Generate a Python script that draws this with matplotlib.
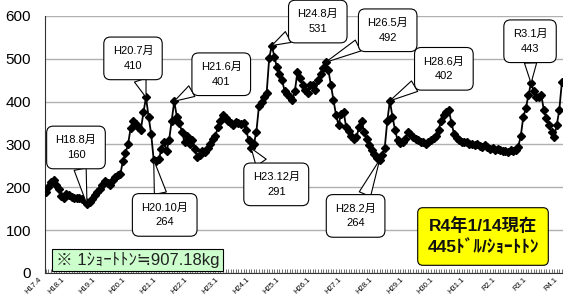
import matplotlib
matplotlib.use("Agg")
import matplotlib.pyplot as plt
import matplotlib.transforms as mtransforms
import numpy as np

plt.rcParams['font.family'] = ['Liberation Sans', 'Noto Sans CJK JP', 'DejaVu Sans']

# Monthly price (USD / short ton), from H17.4 (Apr 2005) to R4.1 (Jan 2022)
p_a = [190, 200, 212, 218, 205, 195, 180, 175, 185, 182, 178, 176, 175, 174, 172, 170, 160]
p_b = [165, 172, 182, 188, 195, 205, 215, 210, 205, 218, 225, 228, 230]
p_c = [262, 280, 300, 338, 355, 348, 340, 335, 375, 410, 365, 325, 264]
p_d = [262, 265, 290, 305, 285, 310, 355, 401]
p_e = [365, 350, 330, 305, 320, 300, 310, 290, 270, 275,
       285, 282, 292, 300, 312, 320, 340, 355, 370, 362,
       355, 350, 345, 352, 350, 348, 350, 335, 310, 291]
p_f = [300, 330, 390, 400, 410, 420, 502, 531, 505, 480,
       465, 450, 425, 418, 412, 405, 425, 470, 455, 440,
       428, 420, 440, 440, 428, 450, 465, 478, 492]
p_g = [475, 440, 405, 370, 345, 372, 375, 340, 332, 320,
       312, 318, 340, 355, 330, 312, 298, 288, 278, 268, 264]
p_h = [275, 292, 355, 402, 365, 335, 310, 304, 305, 312,
       330, 325, 318, 312, 310, 306, 306, 300, 305, 310,
       315, 320, 335, 355, 368, 375, 380, 350, 325, 315,
       310, 306, 305, 305, 300, 302, 298, 300, 296, 295,
       298, 293, 290, 292, 288, 290, 286, 284, 285, 283,
       288, 285, 288, 294, 320, 365, 385, 416, 443, 425,
       410, 412, 415, 380, 362, 345, 330, 318, 345, 380, 445]
prices = p_a + p_b + p_c + p_d + p_e + p_f + p_g + p_h

start_year, start_month = 2005, 4
x = np.arange(len(prices))

def month_index(year, month):
    return (year - start_year) * 12 + (month - start_month)

# Callouts: (text, year, month, offset in pixels)
callouts = [
    ("H18.8月\n160", 2006, 8, (-11, 57)),
    ("H20.7月\n410", 2008, 7, (-13, 39)),
    ("H20.10月\n264", 2008, 10, (11, -55)),
    ("H21.6月\n401", 2009, 6, (47, 27)),
    ("H23.12月\n291", 2011, 12, (25, -36)),
    ("H24.8月\n531", 2012, 8, (46, 24)),
    ("H26.5月\n492", 2014, 5, (62, 32)),
    ("H28.2月\n264", 2016, 2, (-24, -56)),
    ("H28.6月\n402", 2016, 6, (54, 32)),
    ("R3.1月\n443", 2021, 1, (-1, 42)),
]

# Tick labels
tick_years = list(range(2006, 2023))
tick_pos = [0] + [month_index(y, 1) for y in tick_years]
def era_label(y):
    return f"H{y-1988}.1" if y < 2020 else f"R{y-2018}.1"
tick_labels = ["H17.4"] + [era_label(y) for y in tick_years]

fig = plt.figure(figsize=(5.63, 3.01), dpi=100)
ax = fig.add_axes([45/563, 1-273/301, 518/563, 257/301])

ax.plot(x, prices, color='black', lw=1.3, marker='D', markersize=4.2, zorder=3)

ax.set_ylim(0, 600)
ax.set_xlim(-0.35, 201.45)
ax.set_yticks(range(0, 601, 100))
ax.yaxis.grid(True, color='#b0b0b0', lw=1.0)
ax.set_axisbelow(True)
ax.tick_params(axis='y', length=0, labelsize=11, pad=10)
ax.set_xticks(x, minor=True)
ax.tick_params(axis='x', which='both', direction='in', length=3, width=0.6, color='#555555', pad=2)
ax.set_xticks(tick_pos)
ax.set_xticklabels(tick_labels, rotation=45, ha='right', va='top', fontsize=5.5, rotation_mode='anchor')
shift = mtransforms.ScaledTranslation(-8/100, 0, fig.dpi_scale_trans)
for tk in ax.xaxis.get_major_ticks():
    tk.label1.set_transform(tk.label1.get_transform() + shift)
for s in ['top', 'right']:
    ax.spines[s].set_visible(False)
ax.spines['left'].set_color('#333333')
ax.spines['bottom'].set_color('#333333')

for text, yy, mm, off in callouts:
    i = month_index(yy, mm)
    ax.annotate(text, xy=(i, prices[i]), xytext=off, textcoords='offset pixels',
                ha='center', va='center', fontsize=8, linespacing=1.6, zorder=5,
                bbox=dict(boxstyle='round,pad=0.8,rounding_size=0.6', fc='white', ec='black', lw=0.8),
                arrowprops=dict(arrowstyle='wedge,tail_width=1.1,shrink_factor=0.5',
                                fc='white', ec='black', lw=0.8, shrinkA=0, shrinkB=0))

fig.text(137.5/563, 1-260/301, "※ 1ｼｮｰﾄﾄﾝ≒907.18kg", ha='center', va='center',
         fontsize=12, color='#222222',
         bbox=dict(boxstyle='square,pad=0.2', fc='#ccffcc', ec='black', lw=0.8))
fig.text(483/563, 1-236.5/301, "R4年1/14現在\n445ﾄﾞﾙ/ｼｮｰﾄﾄﾝ", ha='center', va='center',
         fontsize=12.5, fontweight='bold', linespacing=1.4, color='#111111',
         bbox=dict(boxstyle='round,pad=0.55,rounding_size=0.3', fc='#ffff00', ec='black', lw=0.8))

fig.savefig("out.png", dpi=100)
